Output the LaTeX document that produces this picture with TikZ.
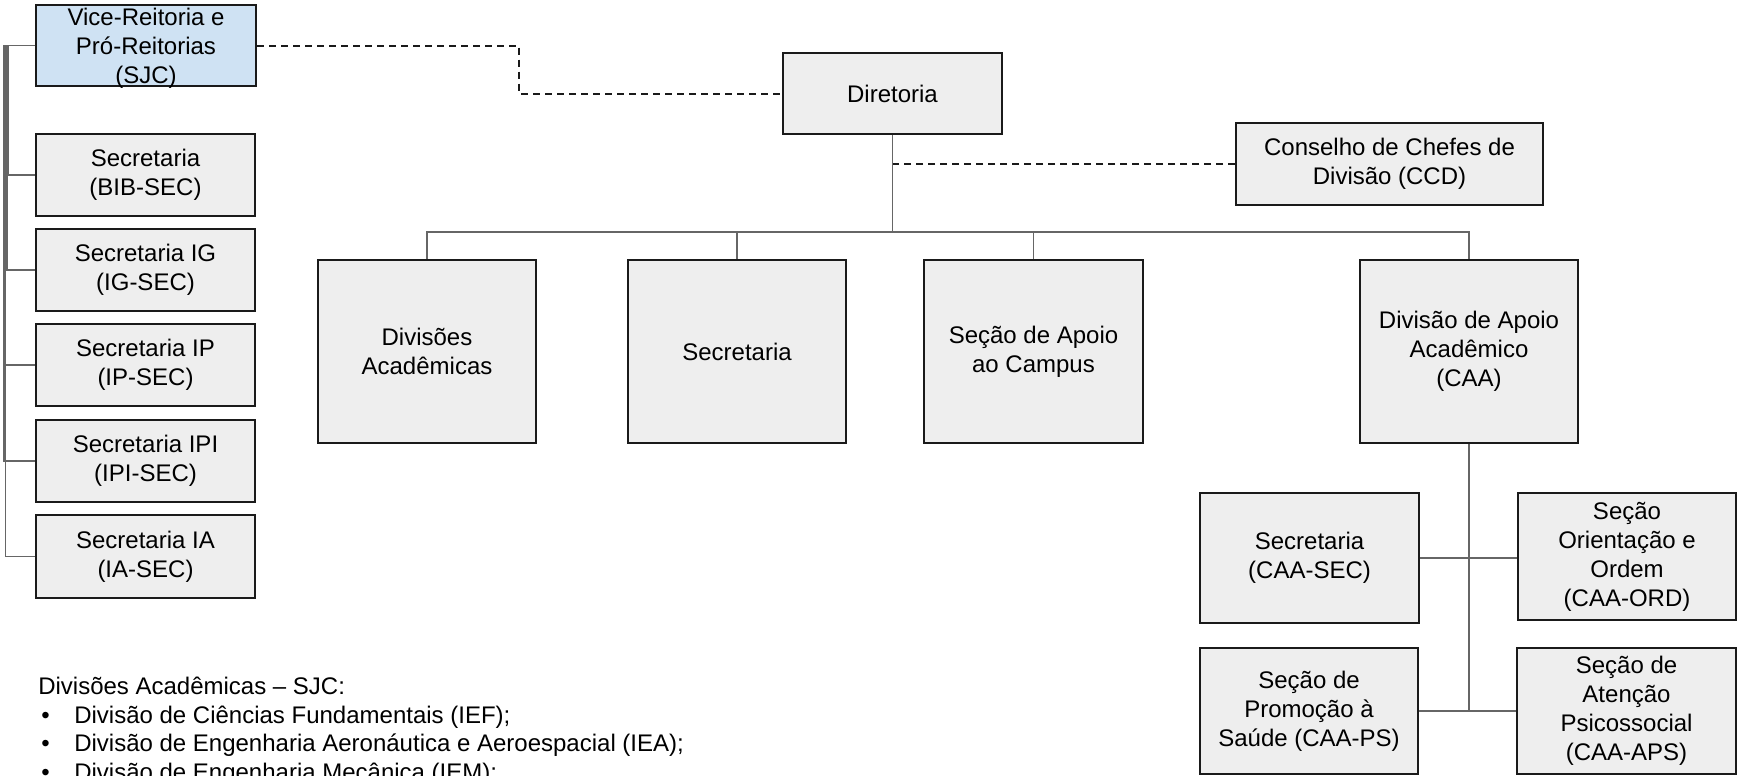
\documentclass[tikz,border=0pt]{standalone}
\usepackage{fontspec}
\setmainfont{Liberation Sans}
\definecolor{boxfill}{HTML}{EEEEEE}
\definecolor{vicefill}{HTML}{CFE2F3}
\definecolor{connc}{HTML}{666666}
\definecolor{edgec}{HTML}{1A1A1A}
\begin{document}
\begin{tikzpicture}[x=0.75pt,y=-0.75pt,
  box/.style={draw=edgec, line width=1.5pt, fill=boxfill, rectangle, inner sep=0pt,
    align=center, font=\fontsize{18pt}{21.75pt}\selectfont},
  txt/.style={inner sep=0pt, align=center, font=\fontsize{18pt}{21.75pt}\selectfont},
  listtxt/.style={inner sep=0pt, anchor=base west, font=\fontsize{18pt}{21.75pt}\selectfont},
  conn/.style={draw=connc, line width=1.1pt},
  dsh/.style={draw=edgec, line width=1.5pt, dash pattern=on 5.25pt off 3.75pt}]
\useasboundingbox[fill=white] (0,0) rectangle (1737,775);

% left column
\node[box, fill=vicefill, minimum width=165pt, minimum height=60.75pt] (vice) at (146,45.5) {};
\node[txt] (vicetxt) at (146,48.5) {Vice-Reitoria e\\Pró-Reitorias\\(SJC)};
\node[box, minimum width=164.25pt, minimum height=61.5pt] (bib) at (145.5,175) {Secretaria\\(BIB-SEC)};
\node[box, minimum width=164.25pt, minimum height=61.5pt] (ig) at (145.5,270) {Secretaria IG\\(IG-SEC)};
\node[box, minimum width=164.25pt, minimum height=61.5pt] (ip) at (145.5,365) {Secretaria IP\\(IP-SEC)};
\node[box, minimum width=164.25pt, minimum height=61.5pt] (ipi) at (145.5,461) {Secretaria IPI\\(IPI-SEC)};
\node[box, minimum width=164.25pt, minimum height=62.25pt] (ia) at (145.5,556.5) {Secretaria IA\\(IA-SEC)};

% top
\node[box, minimum width=164.25pt, minimum height=60.75pt] (dir) at (892.5,93.5) {Diretoria};
\node[box, minimum width=230.25pt, minimum height=61.5pt] (ccd) at (1389.5,163.5) {Conselho de Chefes de\\Divisão (CCD)};

% second level
\node[box, minimum width=163.5pt, minimum height=137.25pt] (div) at (427,351.5) {Divisões\\Acadêmicas};
\node[box, minimum width=163.5pt, minimum height=137.25pt] (sec) at (737,351.5) {Secretaria};
\node[box, minimum width=164.25pt, minimum height=137.25pt] (sca) at (1033.5,351.5) {Seção de Apoio\\ao Campus};
\node[box, minimum width=163.5pt, minimum height=137.25pt] (caa) at (1469,351.5) {Divisão de Apoio\\Acadêmico\\(CAA)};

% CAA children
\node[box, minimum width=164.25pt, minimum height=97.5pt] (caasec) at (1309.5,558) {Secretaria\\(CAA-SEC)};
\node[box, minimum width=163.5pt, minimum height=95.25pt] (ord) at (1627,556.5) {Seção\\Orientação e\\Ordem\\(CAA-ORD)};
\node[box, minimum width=163.5pt, minimum height=94.5pt] (ps) at (1309,711) {Seção de\\Promoção à\\Saúde (CAA-PS)};
\node[box, minimum width=164.25pt, minimum height=94.5pt] (aps) at (1626.5,711) {Seção de\\Atenção\\Psicossocial\\(CAA-APS)};

% left connectors
\draw[conn] (vice.west) -- ++(-26.5,0) |- (bib.west);
\draw[conn] (vice.west) -- ++(-28,0) |- (ig.west);
\draw[conn] (vice.west) -- ++(-29.5,0) |- (ip.west);
\draw[conn] (vice.west) -- ++(-31,0) |- (ipi.west);
\draw[conn] (vice.west) -- ++(-29.5,0) |- (ia.west);

% main tree
\coordinate (bus) at (892.5,232);
\draw[conn] (dir.south) -- (bus);
\draw[conn] (div.north) |- (bus) -| (caa.north);
\draw[conn] (sec.north) -- (sec.north |- bus);
\draw[conn] (sca.north) -- (sca.north |- bus);

% CAA tree
\draw[conn] (caa.south) -- (caa.south |- ps.east);
\draw[conn] (caasec.east) -- (caasec.east -| ord.west);
\draw[conn] (ps.east) -- (ps.east -| aps.west);

% dashed links
\coordinate (vd) at (519,45.5);
\draw[dsh] (vice.east) -- (vd) |- (dir.west);
\draw[dsh] (ccd.west) -- (ccd.west -| dir.south);

% list
\node[listtxt] (lhead) at (38,694) {Divisões Acadêmicas – SJC:};
\node[listtxt] (b1) at (41,723) {•};
\node[listtxt] (l1) at (74,723) {Divisão de Ciências Fundamentais (IEF);};
\node[listtxt] (b2) at (41,751.5) {•};
\node[listtxt] (l2) at (74,751.5) {Divisão de Engenharia Aeronáutica e Aeroespacial (IEA);};
\node[listtxt] (b3) at (41,780) {•};
\node[listtxt] (l3) at (74,780) {Divisão de Engenharia Mecânica (IEM);};
\end{tikzpicture}
\end{document}
